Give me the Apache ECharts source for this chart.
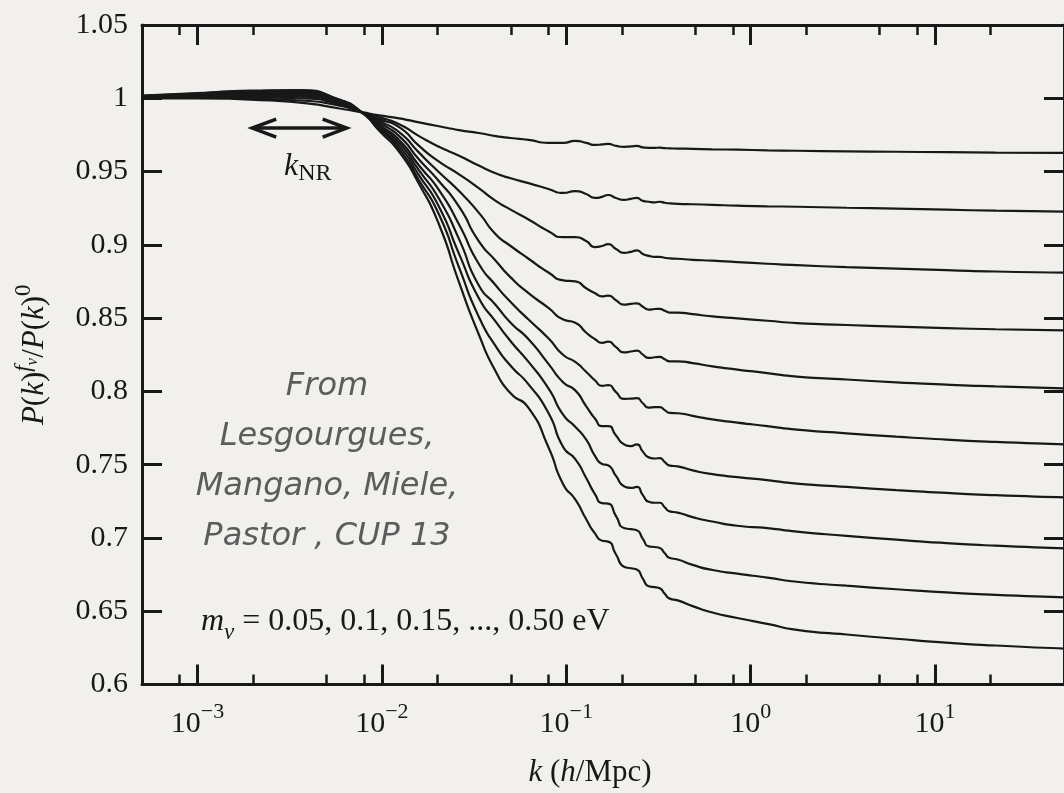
<!DOCTYPE html>
<html>
<head>
<meta charset="utf-8">
<script src="https://cdn.jsdelivr.net/npm/echarts@6/dist/echarts.min.js"></script>
<style>
  html, body { margin: 0; padding: 0; background: #f1f0ed; }
  #chart { width: 1064px; height: 793px; }
</style>
</head>
<body>
<div id="chart"></div>
<script>
// Wavenumbers k (h/Mpc) at which every suppression curve is sampled
const kNodes = [0.0005, 0.001, 0.00193, 0.00359, 0.0059, 0.00775, 0.0097, 0.0124, 0.0159, 0.0204,
  0.0262, 0.0335, 0.0414, 0.0499, 0.0624, 0.080, 0.0963, 0.1118, 0.128, 0.1433,
  0.1563, 0.1684, 0.186, 0.2055, 0.224, 0.241, 0.260, 0.280, 0.302, 0.321,
  0.342, 0.364, 0.402, 0.484, 0.620, 0.846, 1.23, 1.78, 3.31, 6.16,
  11.5, 21.3, 50];

// Neutrino masses (eV), one curve each
const masses = ['0.05', '0.10', '0.15', '0.20', '0.25', '0.30', '0.35', '0.40', '0.45', '0.50'];

// P(k)^{f_nu} / P(k)^0 for each mass
const ratio005 = [1.0000, 1.0000, 0.9990, 0.9970, 0.9930, 0.9905, 0.9883, 0.9863, 0.9836, 0.9809, 0.9783, 0.9763, 0.9742, 0.9729, 0.9716, 0.9696, 0.9696, 0.9709, 0.9696, 0.9682, 0.9685, 0.9689, 0.9675, 0.9669, 0.9672, 0.9675, 0.9665, 0.9662, 0.9662, 0.9663, 0.9660, 0.9658, 0.9657, 0.9655, 0.9652, 0.9649, 0.9645, 0.9642, 0.9638, 0.9635, 0.9632, 0.9629, 0.9627];
const ratio010 = [1.0002, 1.0004, 0.9998, 0.9985, 0.9950, 0.9905, 0.9870, 0.9823, 0.9742, 0.9669, 0.9608, 0.9541, 0.9488, 0.9454, 0.9421, 0.9381, 0.9354, 0.9367, 0.9347, 0.9320, 0.9327, 0.9340, 0.9320, 0.9307, 0.9314, 0.9320, 0.9300, 0.9294, 0.9290, 0.9294, 0.9287, 0.9283, 0.9280, 0.9277, 0.9273, 0.9267, 0.9263, 0.9260, 0.9253, 0.9247, 0.9240, 0.9233, 0.9227];
const ratio015 = [1.0004, 1.0008, 1.0006, 1.0000, 0.9960, 0.9905, 0.9856, 0.9803, 0.9675, 0.9568, 0.9481, 0.9387, 0.9300, 0.9240, 0.9173, 0.9093, 0.9052, 0.9052, 0.9026, 0.8985, 0.8992, 0.9005, 0.8972, 0.8945, 0.8952, 0.8962, 0.8938, 0.8925, 0.8918, 0.8918, 0.8912, 0.8908, 0.8905, 0.8898, 0.8892, 0.8882, 0.8871, 0.8861, 0.8848, 0.8838, 0.8828, 0.8818, 0.8811];
const ratio020 = [1.0006, 1.0012, 1.0014, 1.0012, 0.9968, 0.9905, 0.9843, 0.9769, 0.9629, 0.9495, 0.9367, 0.9220, 0.9072, 0.8992, 0.8905, 0.8811, 0.8758, 0.8751, 0.8704, 0.8670, 0.8648, 0.8654, 0.8622, 0.8592, 0.8597, 0.8601, 0.8578, 0.8558, 0.8562, 0.8563, 0.8550, 0.8538, 0.8538, 0.8527, 0.8512, 0.8498, 0.8482, 0.8466, 0.8453, 0.8442, 0.8432, 0.8424, 0.8416];
const ratio025 = [1.0008, 1.0016, 1.0022, 1.0022, 0.9975, 0.9905, 0.9830, 0.9742, 0.9582, 0.9434, 0.9260, 0.9026, 0.8892, 0.8778, 0.8670, 0.8570, 0.8490, 0.8469, 0.8402, 0.8356, 0.8331, 0.8339, 0.8302, 0.8266, 0.8272, 0.8278, 0.8251, 0.8228, 0.8233, 0.8235, 0.8219, 0.8205, 0.8205, 0.8193, 0.8171, 0.8149, 0.8125, 0.8101, 0.8081, 0.8062, 0.8046, 0.8034, 0.8021];
const ratio030 = [1.0010, 1.0020, 1.0030, 1.0032, 0.9980, 0.9905, 0.9816, 0.9716, 0.9541, 0.9374, 0.9139, 0.8871, 0.8724, 0.8610, 0.8490, 0.8362, 0.8248, 0.8201, 0.8134, 0.8074, 0.8038, 0.8043, 0.7995, 0.7949, 0.7951, 0.7954, 0.7919, 0.7889, 0.7893, 0.7893, 0.7872, 0.7853, 0.7851, 0.7833, 0.7809, 0.7787, 0.7763, 0.7739, 0.7714, 0.7691, 0.7671, 0.7655, 0.7639];
const ratio035 = [1.0012, 1.0024, 1.0037, 1.0040, 0.9984, 0.9905, 0.9809, 0.9696, 0.9508, 0.9314, 0.9039, 0.8724, 0.8590, 0.8469, 0.8356, 0.8188, 0.8061, 0.8007, 0.7900, 0.7813, 0.7763, 0.7763, 0.7699, 0.7639, 0.7626, 0.7639, 0.7589, 0.7550, 0.7542, 0.7545, 0.7518, 0.7494, 0.7488, 0.7461, 0.7435, 0.7415, 0.7394, 0.7371, 0.7348, 0.7326, 0.7307, 0.7292, 0.7277];
const ratio040 = [1.0014, 1.0028, 1.0043, 1.0046, 0.9987, 0.9905, 0.9796, 0.9675, 0.9474, 0.9260, 0.8938, 0.8637, 0.8476, 0.8342, 0.8201, 0.8021, 0.7840, 0.7759, 0.7672, 0.7558, 0.7505, 0.7496, 0.7423, 0.7353, 0.7341, 0.7348, 0.7292, 0.7247, 0.7240, 0.7240, 0.7209, 0.7181, 0.7173, 0.7142, 0.7112, 0.7083, 0.7067, 0.7043, 0.7014, 0.6988, 0.6965, 0.6947, 0.6929];
const ratio045 = [1.0016, 1.0032, 1.0048, 1.0051, 0.9989, 0.9905, 0.9790, 0.9655, 0.9441, 0.9207, 0.8846, 0.8510, 0.8309, 0.8175, 0.8048, 0.7853, 0.7619, 0.7538, 0.7411, 0.7297, 0.7238, 0.7234, 0.7149, 0.7068, 0.7060, 0.7053, 0.6994, 0.6942, 0.6938, 0.6931, 0.6895, 0.6863, 0.6853, 0.6816, 0.6781, 0.6756, 0.6729, 0.6701, 0.6674, 0.6650, 0.6628, 0.6611, 0.6594];
const ratio050 = [1.0018, 1.0035, 1.0052, 1.0055, 0.9990, 0.9905, 0.9776, 0.9635, 0.9415, 0.9139, 0.8744, 0.8390, 0.8136, 0.7987, 0.7887, 0.7619, 0.7364, 0.7263, 0.7129, 0.7029, 0.6981, 0.6975, 0.6887, 0.6804, 0.6793, 0.6785, 0.6723, 0.6670, 0.6664, 0.6656, 0.6619, 0.6586, 0.6574, 0.6535, 0.6491, 0.6454, 0.6414, 0.6373, 0.6341, 0.6312, 0.6286, 0.6266, 0.6245];

const curves = [ratio005, ratio010, ratio015, ratio020, ratio025, ratio030, ratio035, ratio040, ratio045, ratio050];

// Axis ranges and tick positions
const kMin = 0.0005, kMax = 50;
const majorTicks = [0.001, 0.01, 0.1, 1, 10];
const minorTicks = [0.0008, 0.002, 0.005, 0.008, 0.02, 0.05, 0.08, 0.2, 0.5, 0.8, 2, 5, 8, 20];
const yMin = 0.6, yMax = 1.05, yStep = 0.05;

// k_NR arrow span (k values) and its height on the ratio axis
const nrSpan = [0.00198, 0.00644];
const nrLevel = 0.9797;

const ink = '#181818';
const serif = "'Liberation Serif', 'Times New Roman', serif";

function decadeLabel(v) {
  const e = Math.round(Math.log10(v));
  return '{b|10}{e|' + (e < 0 ? '\u2212' + (-e) : String(e)) + '}';
}

const xBase = { type: 'log', logBase: 10, min: kMin, max: kMax, gridIndex: 0, splitLine: { show: false } };
const majorTickStyle = { show: true, inside: true, length: 20, customValues: majorTicks, lineStyle: { color: ink, width: 3 } };
const minorTickStyle = { show: true, inside: true, length: 10, customValues: minorTicks, lineStyle: { color: ink, width: 2.5 } };
const frameLine = { show: true, onZero: false, lineStyle: { color: ink, width: 3 } };

const chart = echarts.init(document.getElementById('chart'), null, { renderer: 'canvas' });

chart.setOption({
  animation: false,
  backgroundColor: '#f1f0ed',
  grid: { left: 142, top: 25, width: 926, height: 672, containLabel: false },
  xAxis: [
    Object.assign({}, xBase, {
      position: 'bottom',
      axisLine: frameLine,
      axisTick: majorTickStyle,
      axisLabel: {
        show: true, customValues: majorTicks, margin: 17, formatter: decadeLabel,
        rich: {
          b: { fontFamily: serif, fontSize: 30, color: ink, lineHeight: 46 },
          e: { fontFamily: serif, fontSize: 22, color: ink, lineHeight: 22, verticalAlign: 'top' }
        }
      },
      name: '{i|k}{r| (}{i|h}{r|/Mpc)}',
      nameLocation: 'middle',
      nameGap: 72,
      nameTextStyle: {
        padding: [0, 26, 0, 0],
        rich: {
          i: { fontFamily: serif, fontStyle: 'italic', fontSize: 31, color: ink, lineHeight: 32 },
          r: { fontFamily: serif, fontSize: 31, color: ink, lineHeight: 32 }
        }
      }
    }),
    Object.assign({}, xBase, { position: 'bottom', axisLine: { show: false }, axisTick: minorTickStyle, axisLabel: { show: false } }),
    Object.assign({}, xBase, { position: 'top', axisLine: frameLine, axisTick: majorTickStyle, axisLabel: { show: false } }),
    Object.assign({}, xBase, { position: 'top', axisLine: { show: false }, axisTick: minorTickStyle, axisLabel: { show: false } })
  ],
  yAxis: [
    {
      type: 'value', min: yMin, max: yMax, interval: yStep, position: 'left',
      axisLine: frameLine,
      axisTick: { show: true, inside: true, length: 20, lineStyle: { color: ink, width: 3 } },
      axisLabel: { margin: 14, fontFamily: serif, fontSize: 30, color: ink, formatter: v => String(+v.toFixed(2)) },
      splitLine: { show: false },
      name: '{i|P}{r|(}{i|k}{r|)}{f|f}{n|\u03bd}{r|/}{i|P}{r|(}{i|k}{r|)}{z|0}',
      nameLocation: 'middle',
      nameRotate: 90,
      nameGap: 84,
      nameTextStyle: {
        rich: {
          i: { fontFamily: serif, fontStyle: 'italic', fontSize: 31, color: ink, lineHeight: 46 },
          r: { fontFamily: serif, fontSize: 31, color: ink, lineHeight: 46 },
          f: { fontFamily: serif, fontStyle: 'italic', fontSize: 23, color: ink, lineHeight: 23, verticalAlign: 'top' },
          n: { fontFamily: serif, fontStyle: 'italic', fontSize: 17, color: ink, lineHeight: 17, verticalAlign: 'top', padding: [12, 0, 0, 0] },
          z: { fontFamily: serif, fontSize: 23, color: ink, lineHeight: 23, verticalAlign: 'top' }
        }
      }
    },
    {
      type: 'value', min: yMin, max: yMax, interval: yStep, position: 'right',
      axisLine: frameLine,
      axisTick: { show: true, inside: true, length: 20, lineStyle: { color: ink, width: 3 } },
      axisLabel: { show: false },
      splitLine: { show: false }
    }
  ],
  series: curves.map((vals, i) => ({
    type: 'line',
    name: 'm\u03bd = ' + masses[i] + ' eV',
    xAxisIndex: 0,
    yAxisIndex: 0,
    data: kNodes.map((k, j) => [k, vals[j]]),
    symbol: 'none',
    showSymbol: false,
    smooth: 0.65,
    silent: true,
    lineStyle: { color: ink, width: 2.2 }
  }))
});

// Annotations: credit block, mass list, k_NR label and its double-headed arrow
const pA = chart.convertToPixel({ gridIndex: 0 }, [nrSpan[0], nrLevel]);
const pB = chart.convertToPixel({ gridIndex: 0 }, [nrSpan[1], nrLevel]);
const headLen = 24, headHalf = 9;
const arrowStyle = { stroke: ink, lineWidth: 3.5, fill: null, lineJoin: 'miter' };

chart.setOption({
  graphic: [
    {
      id: 'credit', type: 'text', x: 327, y: 362, silent: true,
      style: {
        text: 'From\nLesgourgues,\nMangano, Miele,\nPastor , CUP 13',
        fontFamily: "'DejaVu Sans', sans-serif", fontStyle: 'italic', fontSize: 32,
        fill: '#5c5c5c', stroke: null, lineWidth: 0,
        align: 'center', verticalAlign: 'top', lineHeight: 50
      }
    },
    {
      id: 'massList', type: 'text', x: 201, y: 600, silent: true,
      style: {
        text: '{m|m}{n|\u03bd}{r| = 0.05, 0.1, 0.15, ..., 0.50 eV}',
        align: 'left', verticalAlign: 'top', fill: ink, stroke: null, lineWidth: 0,
        rich: {
          m: { fontFamily: serif, fontStyle: 'italic', fontSize: 32, fill: ink, lineHeight: 44 },
          n: { fontFamily: serif, fontStyle: 'italic', fontSize: 23, fill: ink, lineHeight: 23, verticalAlign: 'bottom' },
          r: { fontFamily: serif, fontSize: 32, fill: ink, lineHeight: 44 }
        }
      }
    },
    {
      id: 'kNR', type: 'text', x: 284, y: 148, silent: true,
      style: {
        text: '{k|k}{s|NR}',
        align: 'left', verticalAlign: 'top', fill: ink, stroke: null, lineWidth: 0,
        rich: {
          k: { fontFamily: serif, fontStyle: 'italic', fontSize: 32, fill: ink, lineHeight: 38 },
          s: { fontFamily: serif, fontSize: 24, fill: ink, lineHeight: 30, verticalAlign: 'bottom' }
        }
      }
    },
    { id: 'nrShaft', type: 'polyline', silent: true, shape: { points: [pA, pB] }, style: arrowStyle },
    { id: 'nrHeadL', type: 'polyline', silent: true, shape: { points: [[pA[0] + headLen, pA[1] - headHalf], pA, [pA[0] + headLen, pA[1] + headHalf]] }, style: arrowStyle },
    { id: 'nrHeadR', type: 'polyline', silent: true, shape: { points: [[pB[0] - headLen, pB[1] - headHalf], pB, [pB[0] - headLen, pB[1] + headHalf]] }, style: arrowStyle }
  ]
});
</script>
</body>
</html>
